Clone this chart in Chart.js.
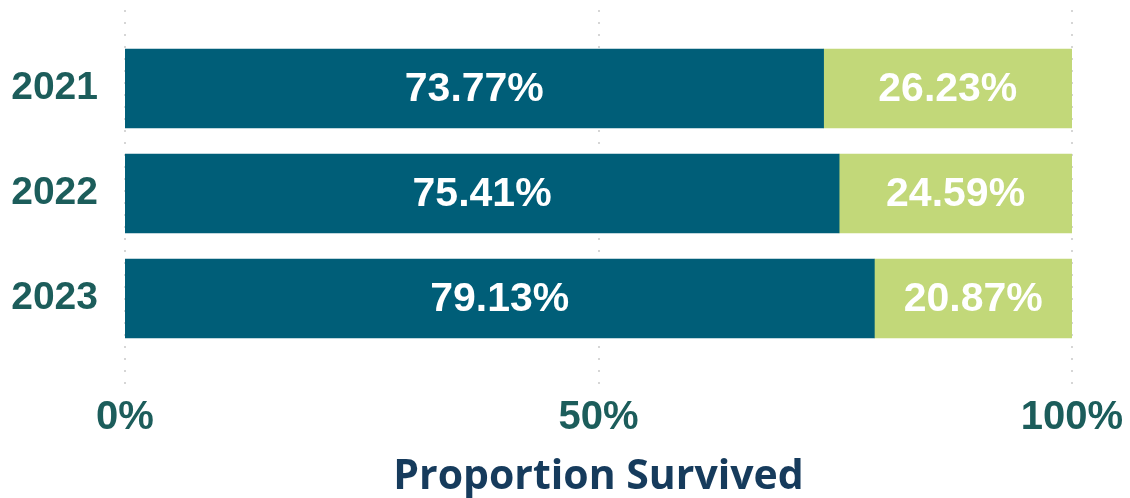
<!DOCTYPE html>
<html>
<head>
<meta charset="utf-8">
<script src="https://cdn.jsdelivr.net/npm/chart.js@4/dist/chart.umd.min.js"></script>
<style>
  html, body { margin: 0; padding: 0; background: #fff; }
  #wrap { width: 1130px; height: 498px; }
</style>
</head>
<body>
<div id="wrap"><canvas id="myChart"></canvas></div>
<script>
const years = ["2021", "2022", "2023"];
const survived = [73.77, 75.41, 79.13];
const notSurvived = [26.23, 24.59, 20.87];
const xTicks = [0, 50, 100];

const tickColor = "#1c5d5b";

// dotted vertical grid lines, a bit taller than the plot area
const dottedGrid = {
    id: "dottedGrid",
    beforeDatasetsDraw(chart) {
        const ctx = chart.ctx;
        const x = chart.scales.x;
        const area = chart.chartArea;
        ctx.save();
        ctx.strokeStyle = "#d6d6d6";
        ctx.lineWidth = 2;
        ctx.setLineDash([2, 10]);
        xTicks.forEach(v => {
            const px = Math.round(x.getPixelForValue(v));
            ctx.beginPath();
            ctx.moveTo(px, area.top - 26);
            ctx.lineTo(px, area.bottom + 34);
            ctx.stroke();
        });
        ctx.restore();
    }
};

// white percentage labels in the middle of each segment
const barLabels = {
    id: "barLabels",
    afterDatasetsDraw(chart) {
        const ctx = chart.ctx;
        ctx.save();
        ctx.fillStyle = "#ffffff";
        ctx.font = "bold 41px 'Liberation Sans', Arial, sans-serif";
        ctx.textAlign = "center";
        ctx.textBaseline = "middle";
        chart.data.datasets.forEach((ds, i) => {
            chart.getDatasetMeta(i).data.forEach((bar, j) => {
                const p = bar.getProps(["x", "y", "base"], true);
                ctx.fillText(ds.data[j].toFixed(2) + "%", (p.x + p.base) / 2, p.y + 1);
            });
        });
        ctx.restore();
    }
};

new Chart(document.getElementById("myChart"), {
    type: "bar",
    data: {
        labels: years,
        datasets: [
            { label: "Survived", data: survived, backgroundColor: "#005e78" },
            { label: "Not survived", data: notSurvived, backgroundColor: "#c2d879" }
        ]
    },
    options: {
        indexAxis: "y",
        responsive: true,
        maintainAspectRatio: false,
        animation: false,
        layout: { padding: { top: 36, right: 58, bottom: 0, left: 0 } },
        plugins: {
            legend: { display: false },
            tooltip: { enabled: false }
        },
        datasets: { bar: { barThickness: 79 } },
        scales: {
            x: {
                stacked: true,
                min: 0,
                max: 100,
                border: { display: false },
                grid: { display: false, drawTicks: false },
                afterBuildTicks(scale) {
                    scale.ticks = xTicks.map(v => ({ value: v }));
                },
                afterFit(scale) {
                    scale.height = 147;
                    scale.paddingLeft = 0;
                    scale.paddingRight = 0;
                },
                ticks: {
                    padding: 43,
                    color: tickColor,
                    font: { family: "'Liberation Sans', Arial, sans-serif", size: 40, weight: "bold" },
                    callback: v => v + "%",
                    maxRotation: 0
                },
                title: {
                    display: true,
                    text: "Proportion Survived",
                    color: "#163b5c",
                    font: { family: "'Open Sans', sans-serif", size: 41, weight: "bold", lineHeight: 1.0 },
                    padding: { top: 0, bottom: 0 }
                }
            },
            y: {
                stacked: true,
                border: { display: false },
                grid: { display: false, drawTicks: false },
                afterFit(scale) {
                    scale.width = 125;
                    scale.paddingTop = 0;
                    scale.paddingBottom = 0;
                },
                ticks: {
                    padding: 27,
                    color: tickColor,
                    font: { family: "'Liberation Sans', Arial, sans-serif", size: 39, weight: "bold" }
                }
            }
        }
    },
    plugins: [dottedGrid, barLabels]
});
</script>
</body>
</html>
